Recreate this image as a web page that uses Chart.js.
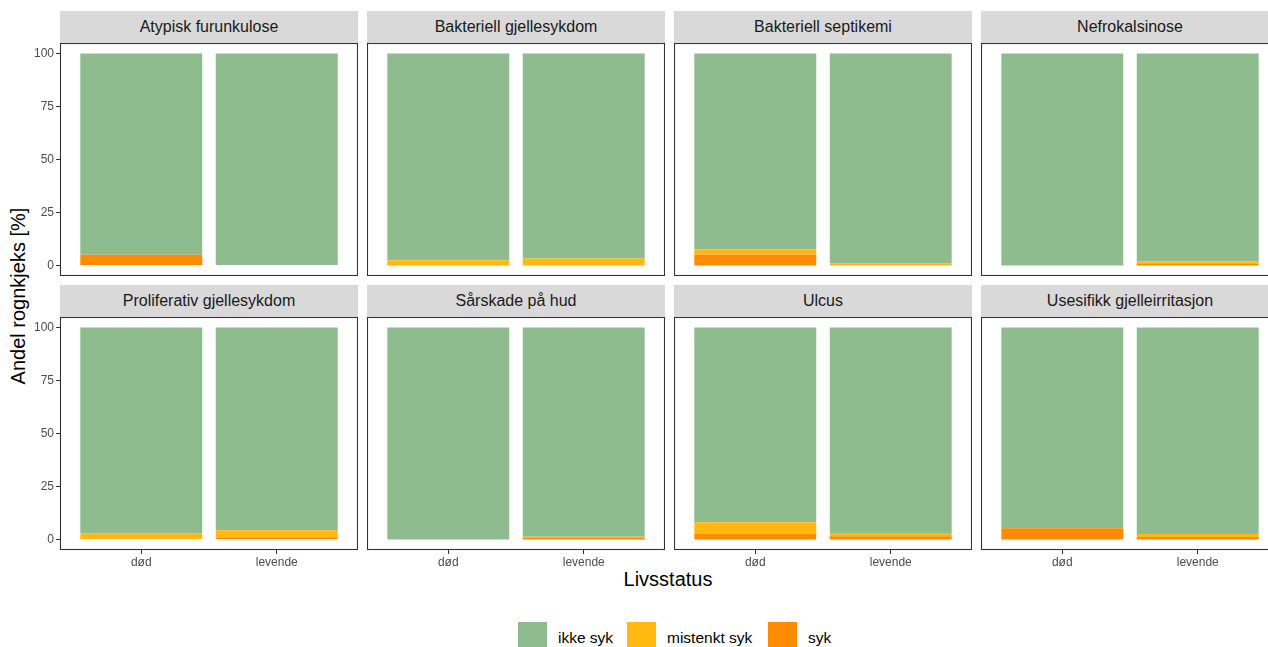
<!DOCTYPE html>
<html>
<head>
<meta charset="utf-8">
<script src="https://cdn.jsdelivr.net/npm/chart.js@4"></script>
<style>
  html, body { margin: 0; padding: 0; background: #fff; overflow: hidden; }
  #wrap { position: relative; width: 1268px; height: 647px; overflow: hidden;
          font-family: "Liberation Sans", Arial, sans-serif; }
  .strip { position: absolute; height: 32px; line-height: 32px; background: #D9D9D9;
           color: #1A1A1A; font-size: 16px; text-align: center; white-space: nowrap; }
  canvas { position: absolute; }
  .title { position: absolute; color: #000; font-size: 20px; white-space: nowrap;
           text-align: center; width: 300px; height: 24px; line-height: 24px; }
  .key { position: absolute; width: 29px; height: 25px; }
  .keytxt { position: absolute; font-size: 15.5px; color: #000; }
</style>
</head>
<body>
<div id="wrap">
  <div class="title" id="ytitle" style="left:-132px; top:284px; transform: rotate(-90deg);"></div>
  <div class="title" style="left:518px; top:567px;">Livsstatus</div>

  <div class="key" style="left:518px; top:622px; background:#8FBC8F;"></div>
  <div class="keytxt" style="left:558px; top:629px;">ikke syk</div>
  <div class="key" style="left:627px; top:622px; background:#FFB90F;"></div>
  <div class="keytxt" style="left:667px; top:629px;">mistenkt syk</div>
  <div class="key" style="left:768px; top:622px; background:#FF8C00;"></div>
  <div class="keytxt" style="left:808px; top:629px;">syk</div>
</div>

<script>
// data, values in percent (død, levende)
var panels = [
  "Atypisk furunkulose", "Bakteriell gjellesykdom", "Bakteriell septikemi", "Nefrokalsinose",
  "Proliferativ gjellesykdom", "Sårskade på hud", "Ulcus", "Usesifikk gjelleirritasjon"
];
var categories = ["død", "levende"];
var yTicks = [0, 25, 50, 75, 100];

var ikkeSyk = [
  [95.0, 100.0], [97.6, 96.7], [92.4, 99.1], [100.0, 98.2],
  [97.2, 95.7], [100.0, 98.8], [91.9, 97.3], [94.7, 97.5]
];
var mistenktSyk = [
  [0, 0], [2.4, 3.3], [2.4, 0.9], [0, 0.9],
  [2.8, 3.4], [0, 0.4], [5.3, 1.2], [0, 1.4]
];
var syk = [
  [5.0, 0], [0, 0], [5.2, 0], [0, 0.9],
  [0, 0.9], [0, 0.8], [2.8, 1.5], [5.3, 1.1]
];

var colors = { ikke: "#8FBC8F", mistenkt: "#FFB90F", syk: "#FF8C00" };

document.getElementById("ytitle").textContent = "Andel rognkjeks [%]";

Chart.defaults.font.family = '"Liberation Sans", Arial, sans-serif';
Chart.defaults.color = "#4D4D4D";

// black frame round each panel
var framePlugin = {
  id: "frame",
  afterDraw: function (chart) {
    var a = chart.chartArea;
    var ctx = chart.ctx;
    ctx.save();
    ctx.strokeStyle = "#333333";
    ctx.lineWidth = 1.1;
    ctx.strokeRect(a.left + 0.5, a.top + 0.5, a.right - a.left - 1, a.bottom - a.top - 1);
    ctx.restore();
  }
};

function points(vals) {
  return vals.map(function (v, i) { return { x: i + 1, y: v }; });
}

var wrap = document.getElementById("wrap");

panels.forEach(function (name, i) {
  var row = Math.floor(i / 4);
  var col = i % 4;
  var left = 60 + col * 307;
  var top = row === 0 ? 43 : 317;
  var plotW = 298, plotH = 233;
  var yAxisW = col === 0 ? 60 : 0;
  var xAxisH = row === 1 ? 30 : 0;

  var strip = document.createElement("div");
  strip.className = "strip";
  strip.style.left = left + "px";
  strip.style.top = (top - 32) + "px";
  strip.style.width = plotW + "px";
  strip.textContent = name;
  wrap.appendChild(strip);

  var canvas = document.createElement("canvas");
  canvas.width = plotW + yAxisW;
  canvas.height = plotH + xAxisH;
  canvas.style.left = (left - yAxisW) + "px";
  canvas.style.top = top + "px";
  wrap.appendChild(canvas);

  new Chart(canvas, {
    type: "bar",
    data: {
      datasets: [
        { label: "syk", data: points(syk[i]), backgroundColor: colors.syk },
        { label: "mistenkt syk", data: points(mistenktSyk[i]), backgroundColor: colors.mistenkt },
        { label: "ikke syk", data: points(ikkeSyk[i]), backgroundColor: colors.ikke }
      ]
    },
    options: {
      responsive: false,
      animation: false,
      layout: { padding: 0 },
      datasets: { bar: { barPercentage: 0.9, categoryPercentage: 1, borderWidth: 0 } },
      plugins: { legend: { display: false }, tooltip: { enabled: false } },
      scales: {
        x: {
          type: "linear",
          stacked: true,
          offset: false,
          min: 0.4,
          max: 2.6,
          display: row === 1,
          afterBuildTicks: function (scale) {
            scale.ticks = [{ value: 1 }, { value: 2 }];
          },
          afterFit: function (scale) {
            scale.height = xAxisH;
            scale.paddingLeft = 0;
            scale.paddingRight = 0;
          },
          ticks: {
            font: { size: 12 },
            padding: 1,
            maxRotation: 0,
            autoSkip: false,
            callback: function (v) { return categories[v - 1]; }
          },
          grid: { offset: false, drawOnChartArea: false, drawTicks: true, tickLength: 4, color: "#333333" },
          border: { display: false }
        },
        y: {
          stacked: true,
          min: -5,
          max: 105,
          display: col === 0,
          afterBuildTicks: function (scale) {
            scale.ticks = yTicks.map(function (v) { return { value: v }; });
          },
          afterFit: function (scale) {
            scale.width = yAxisW;
            scale.paddingTop = 0;
            scale.paddingBottom = 0;
          },
          ticks: { font: { size: 12 }, padding: 2 },
          grid: { drawOnChartArea: false, drawTicks: true, tickLength: 4, color: "#333333" },
          border: { display: false }
        }
      }
    },
    plugins: [framePlugin]
  });
});
</script>
</body>
</html>
